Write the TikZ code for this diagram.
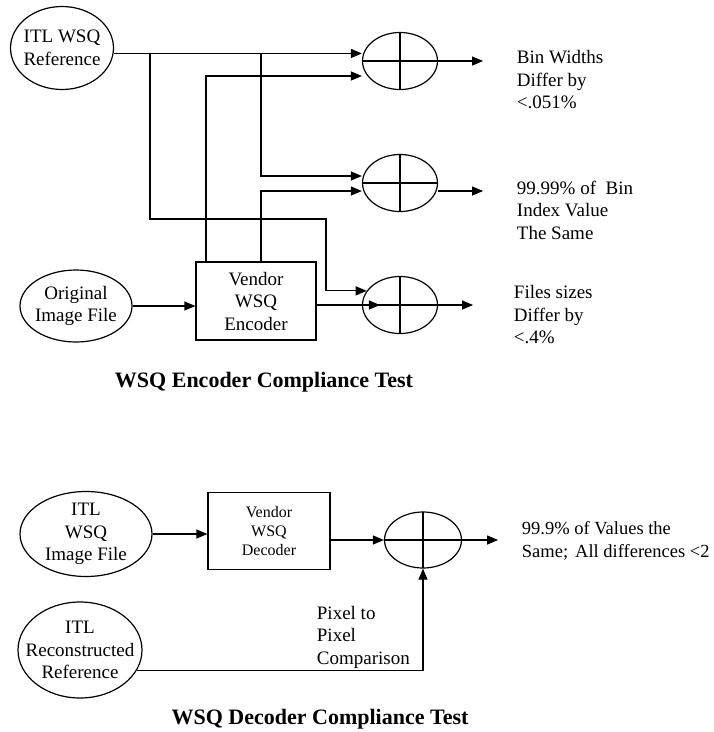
\documentclass[tikz,border=0pt]{standalone}
\usepackage{fontspec}
\setmainfont{Liberation Serif}
\usepackage{tikz}
\usetikzlibrary{shapes.geometric,arrows.meta}

\begin{document}
\begin{tikzpicture}[x=1pt,y=-1pt,line width=1.2pt,>={Triangle[length=11pt,width=9pt]},
   every node/.style={font=\fontsize{19}{22.5}\selectfont},
   source/.style={ellipse,draw,inner sep=-15pt,align=center},
   unit/.style={rectangle,draw,align=center,inner sep=0pt},
   summer/.style={ellipse,draw,minimum width=75,minimum height=57,inner sep=0pt,
      path picture={\draw (path picture bounding box.north) -- (path picture bounding box.south)
         (path picture bounding box.west) -- (path picture bounding box.east);}},
   result/.style={anchor=west,align=left},
   caption/.style={font=\fontsize{22}{26}\selectfont\bfseries}]
   \useasboundingbox (0,0) rectangle (714,732);
   % encoder test
   \node[source,minimum width=103,minimum height=83] (ref) at (62,48) {ITL WSQ\\Reference};
   \node[source,minimum width=112,minimum height=72] (orig) at (76,306) {Original\\Image File};
   \node[unit,minimum width=120,minimum height=78] (enc) at (256,301) {Vendor\\WSQ\\Encoder};
   \node[summer] (c1) at (400,61) {};
   \node[summer] (c2) at (400,183) {};
   \node[summer] (c3) at (400,305) {};
   \node[result] (t1) at (513,80) {Bin Widths\\Differ by\\<.051\%};
   \node[result] (t2) at (513,210) {99.99\% of\ \ Bin\\Index Value\\The Same};
   \node[result] (t3) at (510,315) {Files sizes\\Differ by\\<.4\%};
   \node[caption] (enctitle) at (264,382) {WSQ Encoder Compliance Test};
   \coordinate (ja) at (ref.-6 -| 150,0);
   \coordinate (jb) at (ref.-6 -| 261,0);
   \draw[->] (ref.-6) -- (ref.-6 -| c1.west);
   \draw[->] (jb) |- (c2.west |- 0,176);
   \draw[->] (ja) |- (326,219) |- (c3.157);
   \draw[->] (enc.north -| 206,0) |- (c1.west |- 0,76);
   \draw[->] (enc.north -| 261,0) |- (c2.west |- 0,191);
   \draw[->] (orig.east) -- (orig.east -| enc.west);
   \draw[->] (enc.east |- c3.west) -- ([xshift=18pt]c3.west);
   \draw[->] (c1.east) -- ++(45,0);
   \draw[->] (c2.east |- 0,191) -- ++(45,0);
   \draw[->] (c3.east) -- ++(35,0);
   % decoder test
   \node[source,minimum width=132,minimum height=85] (img) at (86,534) {ITL\\WSQ\\Image File};
   \node[source,minimum width=124,minimum height=96] (rec) at (80,650) {ITL\\Reconstructed\\Reference};
   \node[unit,minimum width=122,minimum height=77,font=\fontsize{16}{19}\selectfont] (dec) at (269,531) {Vendor\\WSQ\\Decoder};
   \node[summer,minimum width=77,minimum height=56] (c4) at (423,540) {};
   \node[result,font=\fontsize{18.5}{22.5}\selectfont] (t4) at (518,541) {99.9\% of Values the\\Same;\hspace{7pt}All differences <2};
   \node[result] (cmp) at (313,637) {Pixel to\\Pixel\\Comparison};
   \node[caption] (dectitle) at (320,719) {WSQ Decoder Compliance Test};
   \draw[->] (img.east) -- (img.east -| dec.west);
   \draw[->] (dec.east |- c4.west) -- (c4.west);
   \draw[->] (c4.east) -- ++(36,0);
   \draw[->] (rec.-20) -| (c4.south);
\end{tikzpicture}
\end{document}
